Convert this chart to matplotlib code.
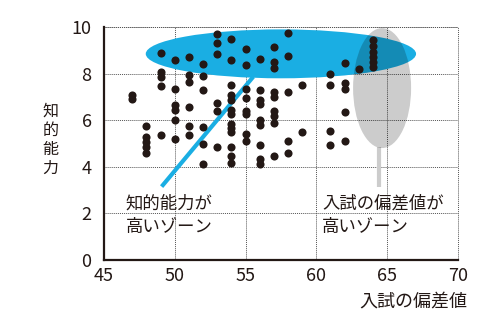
import numpy as np
import matplotlib
matplotlib.use("Agg")
import matplotlib.pyplot as plt
from matplotlib.patches import Ellipse

plt.rcParams['font.family'] = ['Noto Sans CJK JP', 'DejaVu Sans']

INK = '#231815'

# 入試の偏差値ごとの知的能力
scores = {
    47: [7.1, 6.9],
    48: [5.75, 5.3, 5.05, 4.85, 4.6],
    49: [8.9, 8.05, 7.85, 7.45, 5.35],
    50: [8.6, 7.35, 6.65, 6.45, 6.0, 5.2],
    51: [8.7, 7.95, 7.65, 6.55, 5.75, 5.35],
    52: [8.4, 7.9, 7.3, 5.7, 5.0, 4.1],
    53: [9.7, 9.3, 8.85, 6.75, 6.4, 4.85],
    54: [9.5, 8.6, 7.5, 7.1, 6.85, 6.45, 6.25, 5.85, 5.65, 5.5, 4.85, 4.45, 4.15],
    55: [9.05, 8.35, 7.35, 6.95, 6.4, 6.25, 5.4, 5.1],
    56: [8.65, 7.3, 6.85, 6.7, 6.0, 5.8, 4.95, 4.35, 4.12],
    57: [9.15, 8.5, 8.25, 7.2, 7.0, 6.4, 6.2, 5.9, 4.45],
    58: [9.75, 8.75, 7.2, 5.1, 4.6],
    59: [7.5, 5.5],
    61: [8.0, 7.5, 5.55, 4.95],
    62: [8.45, 7.6, 7.35, 6.35, 5.1],
    63: [8.2],
    64: [9.45, 9.2, 8.95, 8.7, 8.5, 8.3],
}
xs = np.concatenate([[k] * len(v) for k, v in scores.items()])
ys = np.concatenate([v for v in scores.values()])

x_ticks = [45, 50, 55, 60, 65, 70]
y_ticks = [0, 2, 4, 6, 8, 10]

fig = plt.figure(figsize=(4.86, 3.26), dpi=100)
ax = fig.add_axes([0.214, 0.2025, 0.728, 0.7145])

ax.set_xlim(45, 70)
ax.set_ylim(0, 10)
ax.set_xticks(x_ticks)
ax.set_yticks(y_ticks)
ax.tick_params(length=0, labelsize=13, colors=INK)
ax.tick_params(axis='y', pad=9)
ax.tick_params(axis='x', pad=5)

for s in ['top', 'right']:
    ax.spines[s].set_visible(False)
for s in ['left', 'bottom']:
    ax.spines[s].set_color(INK)
    ax.spines[s].set_linewidth(1.6)

ax.grid(True, color='#555555', linestyle=(0, (1, 1)), linewidth=0.7)
ax.set_axisbelow(True)
# 右端と上端の点線
ax.axhline(10, color='#555555', linestyle=(0, (1, 1)), linewidth=0.7, zorder=0.5, clip_on=False)
ax.axvline(70, color='#555555', linestyle=(0, (1, 1)), linewidth=0.7, zorder=0.5, clip_on=False)

# 知的能力が高いゾーン
ax.add_patch(Ellipse((57.5, 8.85), 19.1, 2.1, facecolor='#1aaee3', edgecolor='none', zorder=2))
ax.plot([55.55, 49.07], [7.87, 3.15], color='#1aaee3', linewidth=3, solid_capstyle='butt', zorder=2)

# 入試の偏差値が高いゾーン
ax.add_patch(Ellipse((64.65, 7.38), 4.1, 5.15, facecolor='black', alpha=0.2, edgecolor='none', zorder=3))
ax.plot([64.45, 64.45], [4.85, 3.15], color='#cccccc', linewidth=3, solid_capstyle='butt', zorder=2.5)

ax.scatter(xs, ys, s=34, color=INK, zorder=4, linewidths=0)

ax.text(46.55, 1.92, '知的能力が\n高いゾーン', fontsize=12.5, color=INK, linespacing=1.35,
        va='center', ha='left', zorder=5)
ax.text(60.4, 1.92, '入試の偏差値が\n高いゾーン', fontsize=12.5, color=INK, linespacing=1.35,
        va='center', ha='left', zorder=5)

fig.text(0.104, 0.571, '知\n的\n能\n力', fontsize=11.5, color=INK, linespacing=1.15,
         ha='center', va='center')
fig.text(0.962, 0.074, '入試の偏差値', fontsize=13, color=INK, ha='right', va='center')

fig.savefig('out.png', dpi=100)
